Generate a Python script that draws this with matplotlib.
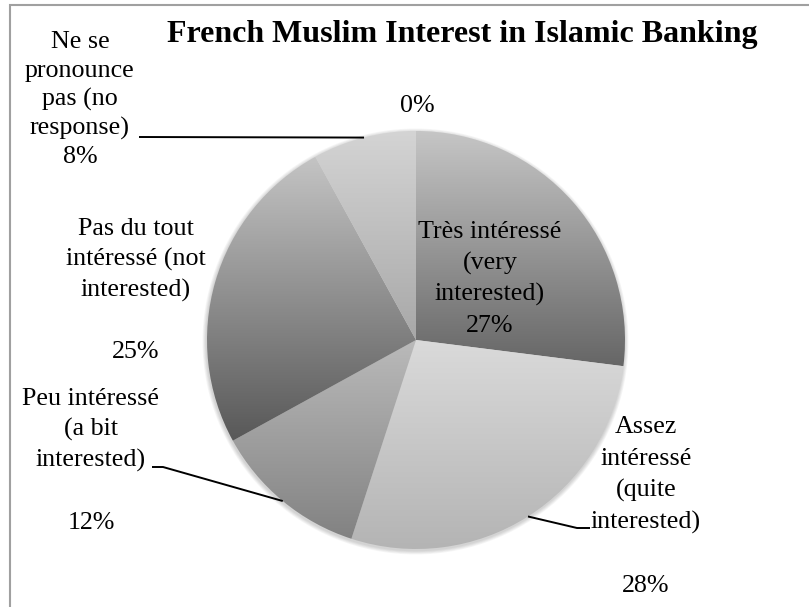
import numpy as np
import matplotlib
matplotlib.use("Agg")
import matplotlib.pyplot as plt
from matplotlib.patches import Circle
from matplotlib.colors import to_rgb

# ---- data ----
title = "French Muslim Interest in Islamic Banking"
categories = ["Très intéressé", "Assez intéressé", "Peu intéressé",
              "Pas du tout intéressé", "Ne se prononce pas", "(autre)"]
values = [27, 28, 12, 25, 8, 0]
label_lines = [
    ["Très intéressé", "(very", "interested)"],
    ["Assez", "intéressé", "(quite", "interested)", ""],
    ["Peu intéressé", "(a bit", "interested)", ""],
    ["Pas du tout", "intéressé (not", "interested)", ""],
    ["Ne se", "pronounce", "pas (no", "response)"],
    [],
]

# ---- style ----
grad_top = ["#c6c6c6", "#dadada", "#bababa", "#c4c4c4", "#d4d4d4", "#d4d4d4"]
grad_bot = ["#666666", "#b4b4b4", "#828282", "#585858", "#a8a8a8", "#a8a8a8"]
FONT = "Liberation Serif"
FS = 18.7

W, H = 809, 607
def Y(y):
    return H - y

fig = plt.figure(figsize=(W / 100, H / 100), dpi=100)
ax = fig.add_axes([0, 0, 1, 1])

cx, cy, R = 416, Y(340), 209

# soft shadow
for k in range(1, 6):
    ax.add_patch(Circle((cx - 0.5, cy - 1.5), R + k * 0.8, color="k",
                        alpha=0.035, lw=0, zorder=0.5))

wedges, _ = ax.pie(values, startangle=90, counterclock=False,
                   center=(cx, cy), radius=R,
                   wedgeprops=dict(linewidth=0))

grad = np.linspace(0, 1, 256).reshape(-1, 1, 1)
for i, w in enumerate(wedges):
    if values[i] <= 0:
        w.set_visible(False)
        continue
    ext = w.get_path().get_extents()
    t = np.array(to_rgb(grad_top[i])).reshape(1, 1, 3)
    b = np.array(to_rgb(grad_bot[i])).reshape(1, 1, 3)
    img = t * (1 - grad) + b * grad
    img = np.repeat(img, 2, axis=1)
    w.set_facecolor("none")
    im = ax.imshow(img, extent=(ext.x0, ext.x1, ext.y0, ext.y1),
                   origin="upper", aspect="auto", interpolation="bilinear",
                   zorder=w.get_zorder())
    im.set_clip_path(w)

# ---- labels ----
label_pos = [(490, 238, 31.5), (646, 433, 31.8), (91, 405, 31.0),
             (136, 235, 30.8), (80, 48, 28.8), (417, 112, 30)]
for i, (lx, ly, step) in enumerate(label_pos):
    lines = label_lines[i] + [f"{values[i]}%"]
    for j, s in enumerate(lines):
        if s:
            ax.text(lx, Y(ly + j * step), s, ha="center", va="baseline",
                    fontsize=FS, family=FONT, color="black", zorder=5)

# ---- leader lines ----
total = sum(values)
cum = np.cumsum([0] + values[:-1])
def edge(i):
    th = np.deg2rad(360 * (cum[i] + values[i] / 2) / total)
    return (cx + R * np.sin(th), cy + R * np.cos(th))

leaders = {
    4: [(139, Y(137)), None],
    2: [(152, Y(467)), (163, Y(467)), None],
    1: [None, (577, Y(528)), (590, Y(528))],
}
for i, pts in leaders.items():
    pts = [edge(i) if p is None else p for p in pts]
    xs, ys = zip(*pts)
    ax.plot(xs, ys, color="black", lw=1.4, zorder=4, solid_capstyle="butt")

# ---- title ----
ax.text(462, Y(42), title, ha="center", va="baseline", fontsize=23,
        fontweight="bold", family=FONT, zorder=5)

# ---- frame ----
ax.plot([10, 10, W + 2], [-2, Y(5), Y(5)], color="#a0a0a0", lw=1.5,
        zorder=6, solid_joinstyle="miter")

ax.set_xlim(0, W)
ax.set_ylim(0, H)
ax.set_aspect("auto")
ax.set_axis_off()

fig.savefig("out.png", dpi=100)
